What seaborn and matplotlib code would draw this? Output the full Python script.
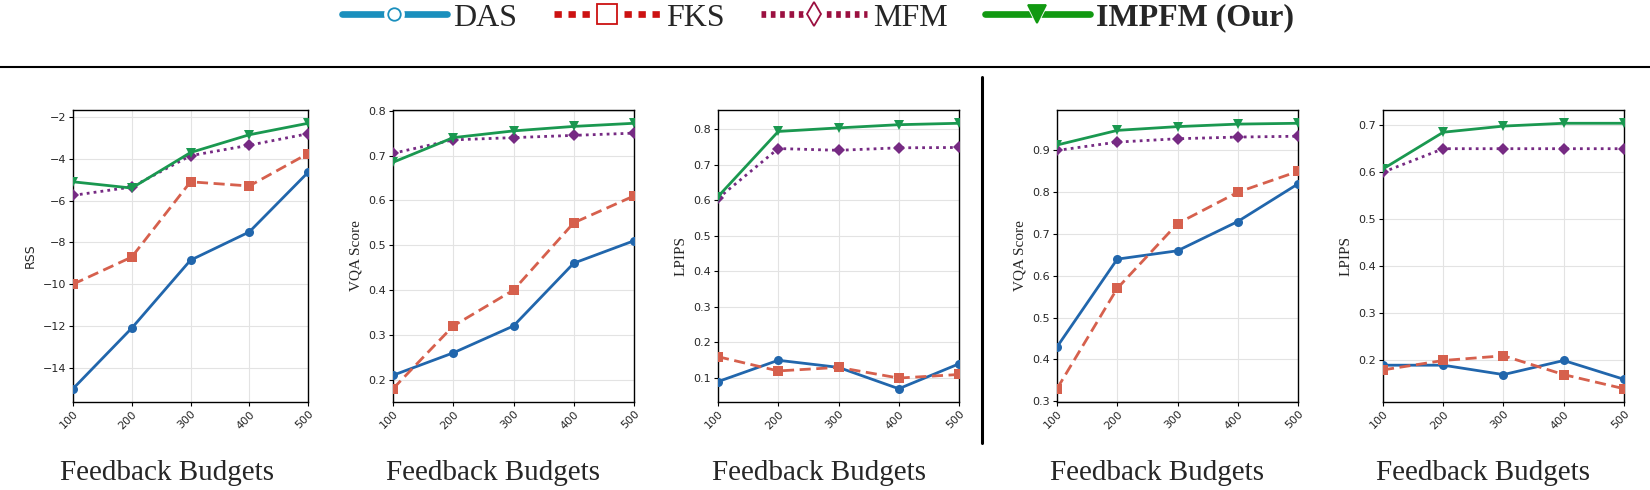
import matplotlib
matplotlib.use("Agg")
import matplotlib.pyplot as plt
from matplotlib.lines import Line2D
from matplotlib.legend_handler import HandlerTuple
from matplotlib.ticker import MultipleLocator
import seaborn as sns
import pandas as pd

budgets = [100, 200, 300, 400, 500]
methods = ["DAS", "FKS", "MFM", "IMPFM (Our)"]

rss_das = [-15.0, -12.1, -8.85, -7.5, -4.65]
rss_fks = [-10.0, -8.7, -5.1, -5.3, -3.75]
rss_mfm = [-5.75, -5.35, -3.85, -3.35, -2.8]
rss_impfm = [-5.1, -5.4, -3.7, -2.85, -2.3]

vqa1_das = [0.21, 0.26, 0.32, 0.46, 0.51]
vqa1_fks = [0.18, 0.32, 0.40, 0.55, 0.61]
vqa1_mfm = [0.705, 0.735, 0.74, 0.745, 0.75]
vqa1_impfm = [0.685, 0.74, 0.755, 0.765, 0.772]

lpips1_das = [0.09, 0.15, 0.13, 0.07, 0.14]
lpips1_fks = [0.16, 0.12, 0.13, 0.10, 0.11]
lpips1_mfm = [0.605, 0.745, 0.74, 0.747, 0.748]
lpips1_impfm = [0.61, 0.793, 0.803, 0.812, 0.816]

vqa2_das = [0.43, 0.64, 0.66, 0.73, 0.82]
vqa2_fks = [0.33, 0.57, 0.725, 0.80, 0.85]
vqa2_mfm = [0.90, 0.92, 0.928, 0.932, 0.934]
vqa2_impfm = [0.913, 0.948, 0.957, 0.963, 0.965]

lpips2_das = [0.19, 0.19, 0.17, 0.20, 0.16]
lpips2_fks = [0.18, 0.20, 0.21, 0.17, 0.14]
lpips2_mfm = [0.60, 0.65, 0.65, 0.65, 0.65]
lpips2_impfm = [0.607, 0.685, 0.698, 0.704, 0.704]

panels = [
    ("RSS", [rss_das, rss_fks, rss_mfm, rss_impfm], 2),
    ("VQA Score", [vqa1_das, vqa1_fks, vqa1_mfm, vqa1_impfm], 0.1),
    ("LPIPS", [lpips1_das, lpips1_fks, lpips1_mfm, lpips1_impfm], 0.1),
    ("VQA Score", [vqa2_das, vqa2_fks, vqa2_mfm, vqa2_impfm], 0.1),
    ("LPIPS", [lpips2_das, lpips2_fks, lpips2_mfm, lpips2_impfm], 0.1),
]
xlabel_text = "Feedback Budgets"

sns.set_style("whitegrid")
plt.rcParams["font.family"] = ["DejaVu Sans"]

line_colors = ["#2166ac", "#d6604d", "#762a83", "#1a9850"]
line_styles = ["-", (0, (4, 2)), (0, (1, 1.5)), "-"]
line_markers = ["o", "s", "D", "v"]

leg_colors = ["#1a8fbd", "#cc1111", "#9b1040", "#119911"]
leg_markers = ["o", "s", "d", "v"]
leg_styles = ["-", (0, (1.1, 1.0)), (0, (0.7, 0.7)), "-"]
leg_msize = [9, 15, 12, 13]

W, H = 1650, 490
fig = plt.figure(figsize=(16.5, 4.9), dpi=100)

ax_left = [73, 393, 718, 1057, 1383]
ax_w = 241
ax_top, ax_bot = 110, 402
xlabel_x = [167, 493, 819, 1157, 1483]

for i, (ylab, series, step) in enumerate(panels):
    l = ax_left[i]
    w = 235 if i == 0 else ax_w
    ax = fig.add_axes([l / W, (H - ax_bot) / H, w / W, (ax_bot - ax_top) / H])
    for j, m in enumerate(methods):
        df = pd.DataFrame({"budget": budgets, "value": series[j]})
        sns.lineplot(data=df, x="budget", y="value", ax=ax, color=line_colors[j],
                     linestyle=line_styles[j], marker=line_markers[j],
                     markersize=6.5 if line_markers[j] != "s" else 7,
                     markeredgewidth=0, linewidth=2.0, zorder=3 + j)
    ax.set_xlim(100, 500)
    ax.set_xticks(budgets)
    ax.yaxis.set_major_locator(MultipleLocator(step))
    ax.grid(True, color="#e3e3e3", linewidth=0.8)
    for s in ax.spines.values():
        s.set_edgecolor("black")
        s.set_linewidth(1.0)
    ax.tick_params(axis="both", which="major", length=3, width=0.8, color="black",
                   labelsize=8, pad=2, bottom=True, left=True)
    for t in ax.get_xticklabels():
        t.set_rotation(45)
        t.set_ha("right")
        t.set_rotation_mode("anchor")
    ax.set_xlabel("")
    if i == 0:
        ax.set_ylabel(ylab, fontsize=9, family="DejaVu Sans")
    else:
        ax.set_ylabel(ylab, fontsize=11, family="Liberation Serif")
    fig.text(xlabel_x[i] / W, 1 - 473 / H, xlabel_text, ha="center", va="center",
             fontsize=21, family="Liberation Serif")

# separators
fig.add_artist(Line2D([0, 1], [1 - 67 / H, 1 - 67 / H], transform=fig.transFigure,
                      color="black", linewidth=1.5))
fig.add_artist(Line2D([982 / W, 982 / W], [1 - 77 / H, 1 - 443 / H], transform=fig.transFigure,
                      color="black", linewidth=2.2))

handles = []
for j, m in enumerate(methods):
    ln = Line2D([0], [0], color=leg_colors[j], linestyle=leg_styles[j], linewidth=4.8)
    gap = Line2D([0], [0], linestyle="none", marker=leg_markers[j],
                 markersize=leg_msize[j] + 6, markerfacecolor="white", markeredgewidth=0)
    mk = Line2D([0], [0], linestyle="none", marker=leg_markers[j], markersize=leg_msize[j],
                markerfacecolor="white" if j < 3 else leg_colors[j],
                markeredgecolor=leg_colors[j], markeredgewidth=1.3)
    handles.append((ln, gap, mk))
leg = fig.legend(handles, methods, loc="center", bbox_to_anchor=(818 / W, 1 - 18 / H),
                 ncol=4, frameon=False, handlelength=3.3, columnspacing=1.15, handletextpad=0.2,
                 numpoints=1,
                 handler_map={tuple: HandlerTuple(ndivide=1, pad=0)},
                 prop={"family": "Liberation Serif", "size": 23})
for t in leg.get_texts():
    if t.get_text() == "IMPFM (Our)":
        t.set_fontweight("bold")

fig.savefig("out.png", dpi=100)
